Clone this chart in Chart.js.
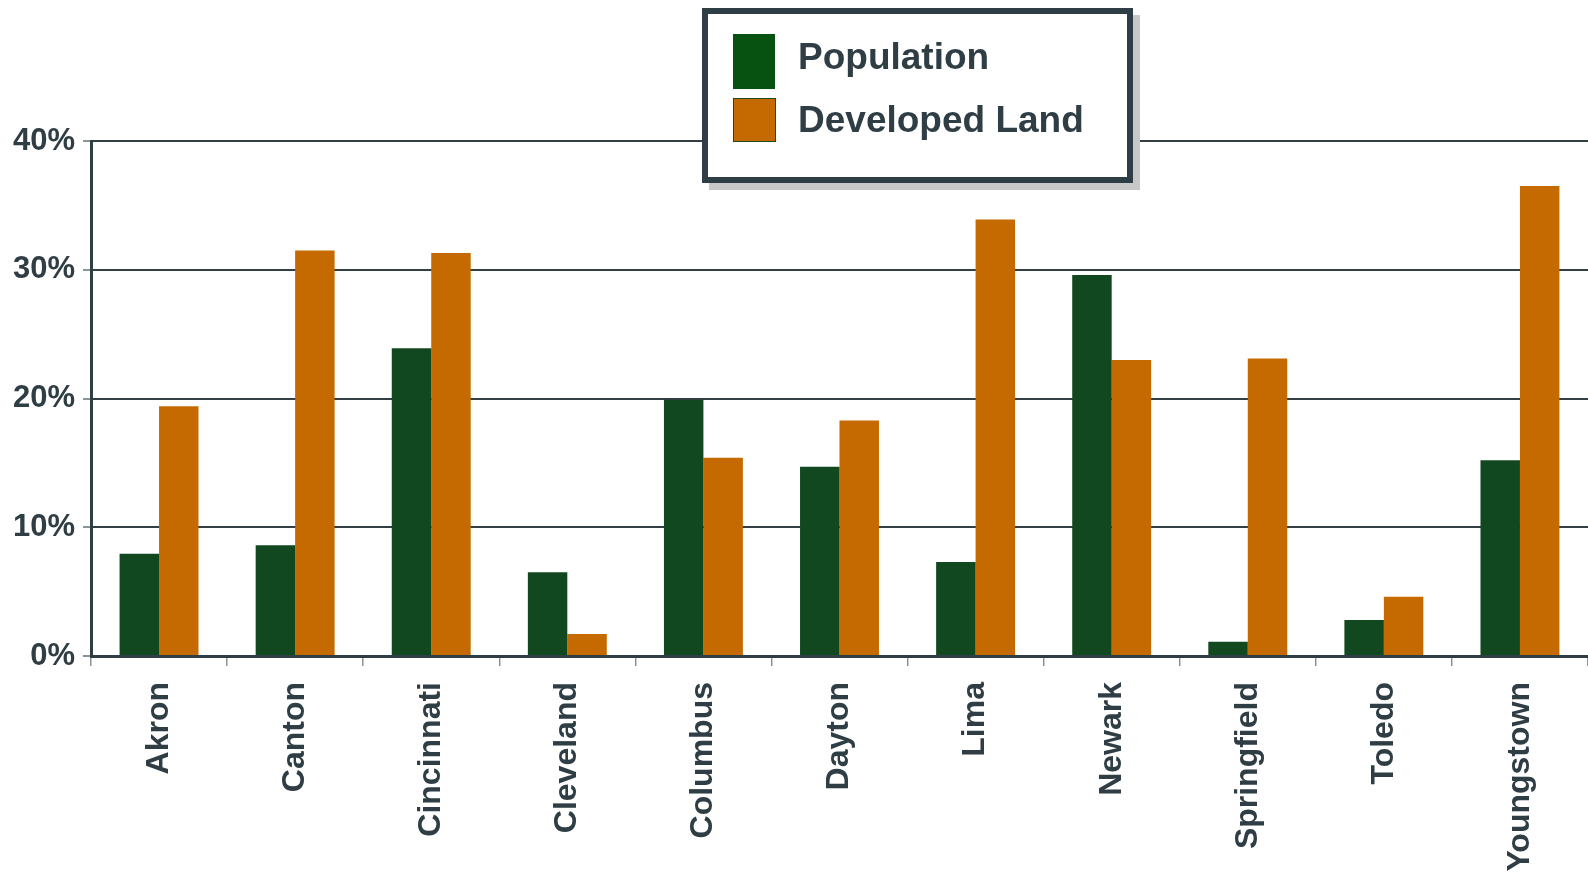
<!DOCTYPE html>
<html>
<head>
<meta charset="utf-8">
<script src="https://cdn.jsdelivr.net/npm/chart.js@4"></script>
<style>
  html, body { margin: 0; padding: 0; background: #fff; }
  #wrap { position: relative; width: 1588px; height: 874px; overflow: hidden; }
  #legend {
    position: absolute; left: 702px; top: 8px; width: 419px; height: 163px;
    border: 6px solid #2f3d44; background: #fff;
    box-shadow: 7px 7px 0 #c8c8c8;
    font-family: "Liberation Sans", Arial, sans-serif; font-weight: bold;
    color: #2f3d44; font-size: 37px;
  }
  .item { position: absolute; left: 25px; height: 50px; line-height: 50px; }
  .sw { position: absolute; left: 0; }
  .lbl { position: absolute; left: 65px; white-space: nowrap; }
</style>
</head>
<body>
<div id="wrap">
  <canvas id="bar-chart" width="1588" height="874"></canvas>
  <div id="legend">
    <div class="item" style="top:18px"><div class="sw" style="top:2px;width:42px;height:55px;background:#075210"></div><span class="lbl">Population</span></div>
    <div class="item" style="top:81px"><div class="sw" style="top:3px;width:41px;height:42px;background:#c46a00;border:1px solid #1e4a22"></div><span class="lbl">Developed Land</span></div>
  </div>
</div>
<script>
const cities = ['Akron', 'Canton', 'Cincinnati', 'Cleveland', 'Columbus', 'Dayton', 'Lima', 'Newark', 'Springfield', 'Toledo', 'Youngstown'];
const population = [7.95, 8.6, 23.9, 6.5, 19.9, 14.7, 7.3, 29.6, 1.1, 2.8, 15.2];
const developedLand = [19.4, 31.5, 31.3, 1.7, 15.4, 18.3, 33.9, 23.0, 23.1, 4.6, 36.5];
const yTicks = [0, 10, 20, 30, 40];

const textColor = '#2f3d44';
const fontFamily = '"Liberation Sans", Arial, sans-serif';

new Chart(document.getElementById('bar-chart'), {
    type: 'bar',
    data: {
        labels: cities,
        datasets: [
            {
                label: 'Population',
                data: population,
                backgroundColor: '#12481f',
                borderWidth: 0
            },
            {
                label: 'Developed Land',
                data: developedLand,
                backgroundColor: '#c46a00',
                borderWidth: 0
            }
        ]
    },
    options: {
        responsive: false,
        animation: false,
        layout: { padding: { top: 141, right: 0, left: 0, bottom: 0 } },
        plugins: {
            legend: { display: false },
            tooltip: { enabled: false }
        },
        datasets: { bar: { categoryPercentage: 0.58, barPercentage: 1.0 } },
        scales: {
            x: {
                afterFit: (scale) => { scale.height = 218; },
                grid: { drawOnChartArea: false, tickLength: 10, tickColor: '#8a9397', lineWidth: 1.5, offset: true },
                border: { color: textColor, width: 3 },
                ticks: {
                    minRotation: 90, maxRotation: 90, padding: 16,
                    color: textColor,
                    font: { family: fontFamily, size: 32, weight: 'bold' }
                }
            },
            y: {
                min: 0, max: 40,
                afterFit: (scale) => { scale.width = 91; },
                afterBuildTicks: (scale) => { scale.ticks = yTicks.map(v => ({ value: v })); },
                grid: { color: '#333f44', lineWidth: 2, tickLength: 8, tickColor: '#8a9397' },
                border: { color: textColor, width: 3 },
                ticks: {
                    padding: 8,
                    color: textColor,
                    font: { family: fontFamily, size: 31, weight: 'bold' },
                    callback: (v) => v + '%'
                }
            }
        }
    }
});
</script>
</body>
</html>
